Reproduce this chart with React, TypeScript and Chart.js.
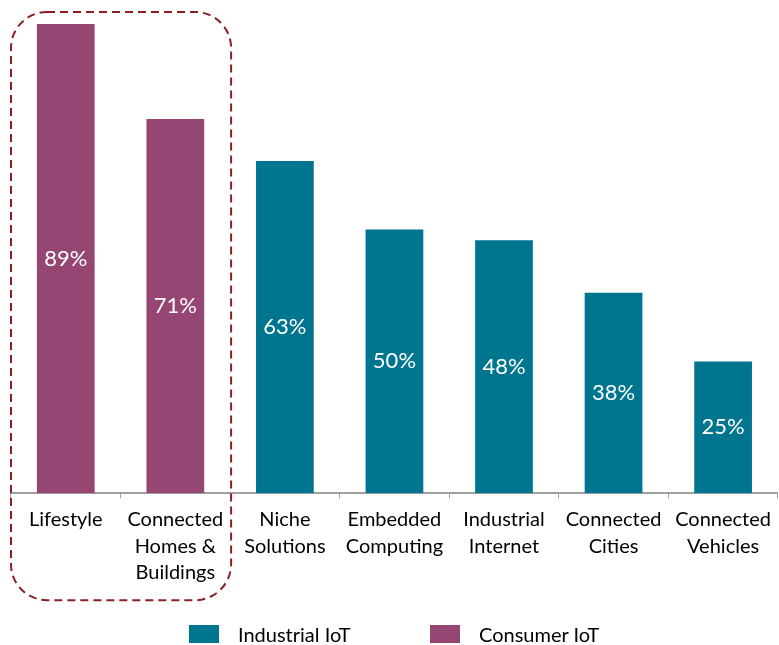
import React, { useEffect, useRef } from "react";
import { Chart, registerables } from "chart.js";

Chart.register(...registerables);

const categories: (string | string[])[] = [
  "Lifestyle",
  ["Connected", "Homes &", "Buildings"],
  ["Niche", "Solutions"],
  ["Embedded", "Computing"],
  ["Industrial", "Internet"],
  ["Connected", "Cities"],
  ["Connected", "Vehicles"],
];
const industrialValues = [null, null, 63, 50, 48, 38, 25];
const consumerValues = [89, 71, null, null, null, null, null];
const seriesNames = ["Industrial IoT", "Consumer IoT"];
const TEAL = "#00758f";
const PURPLE = "#964673";
const FONT = "Lato, 'Noto Sans', sans-serif";

const overlayPlugin = {
  id: "overlay",
  afterDatasetsDraw(chart: any) {
    const ctx = chart.ctx;
    const x = chart.scales.x;
    const area = chart.chartArea;
    ctx.save();
    // value labels
    ctx.fillStyle = "#ffffff";
    ctx.font = `22px ${FONT}`;
    ctx.textAlign = "center";
    ctx.textBaseline = "middle";
    chart.data.datasets.forEach((ds: any, di: number) => {
      const meta = chart.getDatasetMeta(di);
      meta.data.forEach((bar: any, i: number) => {
        const v = ds.data[i];
        if (v == null) return;
        const mid = (bar.y + bar.base) / 2;
        ctx.fillText(`${v}%`, bar.x, mid);
      });
    });
    // dashed rounded box around consumer categories
    const step = x.getPixelForValue(1) - x.getPixelForValue(0);
    const left = x.getPixelForValue(0) - step / 2;
    const right = x.getPixelForValue(1) + step / 2 + 1;
    const top = area.top - 12;
    const bottom = area.bottom + 107;
    const r = 36;
    ctx.strokeStyle = "#8b1f24";
    ctx.lineWidth = 2;
    ctx.setLineDash([8, 5]);
    ctx.beginPath();
    ctx.moveTo(left + r, top);
    ctx.lineTo(right - r, top);
    ctx.arcTo(right, top, right, top + r, r);
    ctx.lineTo(right, bottom - r);
    ctx.arcTo(right, bottom, right - r, bottom, r);
    ctx.lineTo(left + r, bottom);
    ctx.arcTo(left, bottom, left, bottom - r, r);
    ctx.lineTo(left, top + r);
    ctx.arcTo(left, top, left + r, top, r);
    ctx.closePath();
    ctx.stroke();
    ctx.restore();
  },
};

export default function App() {
  const ref = useRef<HTMLCanvasElement | null>(null);
  useEffect(() => {
    document.body.style.margin = "0";
    const chart = new Chart(ref.current!, {
      type: "bar",
      data: {
        labels: categories,
        datasets: [
          { label: seriesNames[0], data: industrialValues, backgroundColor: TEAL },
          { label: seriesNames[1], data: consumerValues, backgroundColor: PURPLE },
        ],
      },
      options: {
        animation: false,
        responsive: false,
        maintainAspectRatio: false,
        layout: { padding: { top: 24, left: 11, right: 0, bottom: 51 } },
        datasets: { bar: { barPercentage: 0.527, categoryPercentage: 1 } },
        plugins: { legend: { display: false }, tooltip: { enabled: false } },
        scales: {
          x: {
            stacked: true,
            grid: {
              display: true,
              drawOnChartArea: false,
              drawTicks: true,
              tickLength: 5,
              offset: true,
              color: "#a0a0a0",
            },
            border: { display: true, color: "#a0a0a0", width: 2 },
            ticks: {
              autoSkip: false,
              maxRotation: 0,
              padding: 8,
              color: "#000000",
              font: { family: FONT, size: 20, lineHeight: 1.33 },
            },
          },
          y: {
            display: false,
            min: 0,
            max: 89,
          },
        },
      },
      plugins: [overlayPlugin],
    } as any);
    return () => chart.destroy();
  }, []);

  const legendItem = (color: string, text: string, left: number) => (
    <div style={{ position: "absolute", left, top: 624, display: "flex", alignItems: "center" }}>
      <div style={{ width: 30, height: 18, background: color }} />
      <span style={{ marginLeft: 19, fontFamily: FONT, fontSize: 20, color: "#000", lineHeight: "20px" }}>{text}</span>
    </div>
  );

  return (
    <div style={{ position: "relative", width: 779, height: 645 }}>
      <canvas ref={ref} width={779} height={645} style={{ display: "block" }} />
      {legendItem(TEAL, seriesNames[0], 189)}
      {legendItem(PURPLE, seriesNames[1], 430)}
    </div>
  );
}
